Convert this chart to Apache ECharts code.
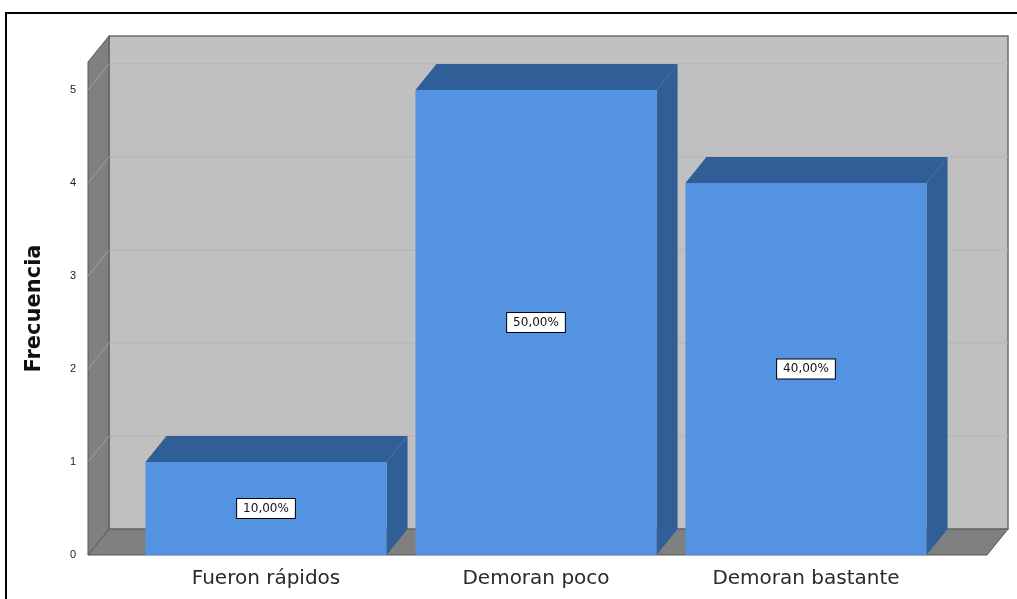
<!DOCTYPE html>
<html>
<head>
<meta charset="utf-8">
<script src="https://cdn.jsdelivr.net/npm/echarts@6/dist/echarts.min.js"></script>
<style>
  html, body { margin: 0; padding: 0; background: #fff; }
  #chart { width: 1017px; height: 599px; }
</style>
</head>
<body>
<div id="chart"></div>
<script>
// datos
var categorias = ['Fueron rápidos', 'Demoran poco', 'Demoran bastante'];
var frecuencias = [1, 5, 4];
var porcentajes = ['10,00%', '50,00%', '40,00%'];
var yTicks = [0, 1, 2, 3, 4, 5];

var myChart = echarts.init(document.getElementById('chart'));

// profundidad 3D
var DX = 21, DY = 26;
var frente = '#5393e1';
var lado = '#305e97';

function paredes(params, api) {
    var cs = params.coordSys;
    var y0 = api.coord([0, 0])[1];
    var yTop = cs.y;
    var fl = cs.x - 43;
    var fr = cs.x + cs.width + 46;
    var kids = [];
    // pared del fondo
    kids.push({
        type: 'rect',
        shape: { x: fl + DX, y: yTop - DY, width: fr - fl, height: y0 - yTop },
        style: { fill: '#c0c0c0', stroke: '#6e6e6e', lineWidth: 1.5 }
    });
    // lineas de cuadricula
    yTicks.forEach(function (t) {
        var yy = api.coord([0, t])[1];
        kids.push({
            type: 'line',
            shape: { x1: fl + DX, y1: yy - DY, x2: fr + DX, y2: yy - DY },
            style: { stroke: '#b4b4b4', lineWidth: 1 }
        });
    });
    // pared izquierda
    kids.push({
        type: 'polygon',
        shape: { points: [[fl, yTop], [fl + DX, yTop - DY], [fl + DX, y0 - DY], [fl, y0]] },
        style: { fill: '#808080', stroke: '#555', lineWidth: 1 }
    });
    yTicks.forEach(function (t) {
        var yy = api.coord([0, t])[1];
        kids.push({
            type: 'line',
            shape: { x1: fl, y1: yy, x2: fl + DX, y2: yy - DY },
            style: { stroke: '#a0a0a0', lineWidth: 1 }
        });
    });
    // piso
    kids.push({
        type: 'polygon',
        shape: { points: [[fl, y0], [fl + DX, y0 - DY], [fr + DX, y0 - DY], [fr, y0]] },
        style: { fill: '#808080', stroke: '#555', lineWidth: 1 }
    });
    return { type: 'group', children: kids };
}

function barras3d(params, api) {
    var top = api.coord([api.value(0), api.value(1)]);
    var base = api.coord([api.value(0), 0]);
    var bw = api.size([1, 0])[0] * 0.893;
    var x0 = top[0] - bw / 2;
    var yt = top[1], yb = base[1];
    return {
        type: 'group',
        children: [
            {
                type: 'polygon',
                shape: { points: [[x0 + bw, yt], [x0 + bw + DX, yt - DY], [x0 + bw + DX, yb - DY], [x0 + bw, yb]] },
                style: { fill: lado }
            },
            {
                type: 'polygon',
                shape: { points: [[x0, yt], [x0 + DX, yt - DY], [x0 + bw + DX, yt - DY], [x0 + bw, yt]] },
                style: { fill: lado }
            },
            {
                type: 'rect',
                shape: { x: x0, y: yt, width: bw, height: yb - yt },
                style: { fill: frente }
            },
            {
                type: 'text',
                x: top[0], y: (yt + yb) / 2,
                style: {
                    text: porcentajes[params.dataIndex],
                    align: 'center', verticalAlign: 'middle',
                    fontFamily: 'DejaVu Sans', fontSize: 12, fill: '#111',
                    backgroundColor: '#fff', borderColor: '#000', borderWidth: 1,
                    padding: [4, 6, 3, 6]
                }
            }
        ]
    };
}

option = {
    animation: false,
    backgroundColor: '#fff',
    grid: { left: 131, right: 76, top: 62, bottom: 44 },
    xAxis: {
        type: 'category',
        data: categorias,
        axisLine: { show: false },
        axisTick: { show: false },
        axisLabel: { color: '#2a2a2a', fontSize: 20, fontFamily: 'DejaVu Sans', margin: 14 }
    },
    yAxis: {
        type: 'value',
        min: 0,
        max: 5.3,
        interval: 1,
        name: 'Frecuencia',
        nameLocation: 'middle',
        nameGap: 86,
        nameRotate: 90,
        nameTextStyle: { fontSize: 21, fontWeight: 'bold', color: '#111', fontFamily: 'DejaVu Sans' },
        axisLine: { show: false },
        axisTick: { show: false },
        splitLine: { show: false },
        axisLabel: {
            color: '#222', fontSize: 11, fontFamily: 'Liberation Sans', margin: 55,
            formatter: function (v) { return Number.isInteger(v) ? v : ''; }
        }
    },
    graphic: [{
        type: 'rect',
        shape: { x: 6, y: 13, width: 1030, height: 620 },
        style: { fill: 'none', stroke: '#000', lineWidth: 2 },
        z: 100
    }],
    series: [
        {
            type: 'custom',
            renderItem: paredes,
            data: [[0, 0]],
            z: 1,
            silent: true
        },
        {
            type: 'custom',
            renderItem: barras3d,
            data: frecuencias.map(function (v, i) { return [i, v]; }),
            encode: { x: 0, y: 1 },
            z: 2
        }
    ]
};

myChart.setOption(option);
</script>
</body>
</html>
